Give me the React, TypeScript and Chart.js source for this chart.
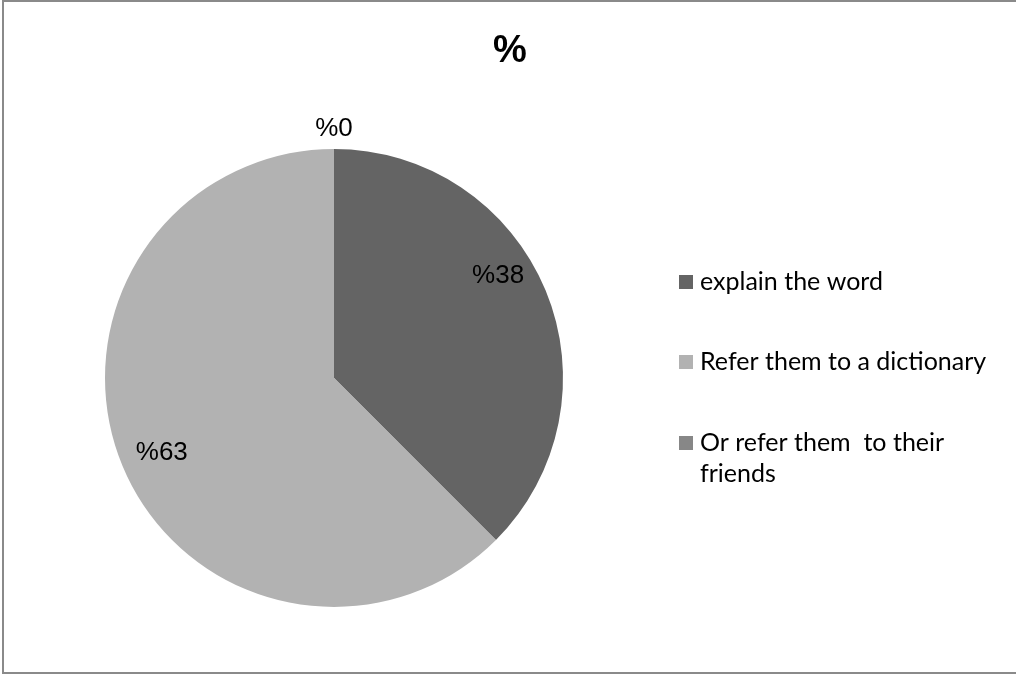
import React, { useEffect, useRef } from "react";
import { Chart, registerables } from "chart.js";

Chart.register(...registerables);

const categories = ["explain the word", "Refer them to a dictionary", "Or refer them  to their friends"];
const values = [37.5, 62.5, 0];
const colors = ["#646464", "#b2b2b2", "#878787"];
const titleText = "%";

const W = 1016;
const H = 674;

const framePlugin = {
  id: "frame",
  beforeDraw(chart: any) {
    const ctx = chart.ctx;
    ctx.save();
    ctx.fillStyle = "#ffffff";
    ctx.fillRect(0, 0, W, H);
    ctx.restore();
  },
  afterDraw(chart: any) {
    const ctx = chart.ctx;
    ctx.save();
    ctx.strokeStyle = "#8a8a8a";
    ctx.lineWidth = 2;
    ctx.strokeRect(3, 1, W + 10, H - 2);
    ctx.restore();
  },
};

const titlePlugin = {
  id: "customTitle",
  afterDraw(chart: any) {
    const ctx = chart.ctx;
    ctx.save();
    ctx.fillStyle = "#000";
    ctx.font = "bold 38px 'Liberation Sans', Arial, sans-serif";
    ctx.textAlign = "center";
    ctx.textBaseline = "middle";
    ctx.fillText(titleText, 510, 52);
    ctx.restore();
  },
};

// per-label placement: [angle shift in degrees, radius fraction]
const labelPlacement = [
  [-9.5, 0.845],
  [-1, 0.82],
  [0, 1.09],
];

const dataLabelPlugin = {
  id: "dataLabels",
  afterDatasetsDraw(chart: any) {
    const ctx = chart.ctx;
    const meta = chart.getDatasetMeta(0);
    const total = values.reduce((a, b) => a + b, 0);
    ctx.save();
    ctx.fillStyle = "#000";
    ctx.font = "26px 'Liberation Sans', Arial, sans-serif";
    ctx.textAlign = "center";
    ctx.textBaseline = "middle";
    meta.data.forEach((arc: any, i: number) => {
      const { x, y, startAngle, endAngle, outerRadius } = arc.getProps(
        ["x", "y", "startAngle", "endAngle", "outerRadius"],
        true
      );
      const [shift, frac] = labelPlacement[i];
      const mid = (startAngle + endAngle) / 2 + (shift * Math.PI) / 180;
      const r = outerRadius * frac;
      const px = x + Math.cos(mid) * r;
      const py = y + Math.sin(mid) * r;
      const pct = Math.round((values[i] / total) * 100);
      ctx.fillText("%" + pct, px, py);
    });
    ctx.restore();
  },
};

const legendPlugin = {
  id: "customLegend",
  afterDraw(chart: any) {
    const ctx = chart.ctx;
    ctx.save();
    ctx.font = "25px Lato, 'Open Sans', sans-serif";
    ctx.textBaseline = "middle";
    ctx.textAlign = "left";
    const boxX = 679;
    const textX = 700;
    const maxW = 292;
    const rowYs = [282, 362, 443];
    const lineH = 31;
    categories.forEach((label, i) => {
      const words = label.split(" ");
      const lines: string[] = [];
      let cur = "";
      words.forEach((w) => {
        const test = cur === "" ? w : cur + " " + w;
        if (ctx.measureText(test).width > maxW && cur.trim() !== "") {
          lines.push(cur);
          cur = w;
        } else {
          cur = test;
        }
      });
      if (cur) lines.push(cur);
      const y0 = rowYs[i];
      ctx.fillStyle = colors[i];
      ctx.fillRect(boxX, y0 - 7, 14, 14);
      ctx.fillStyle = "#000";
      lines.forEach((ln, j) => ctx.fillText(ln, textX, y0 + j * lineH));
    });
    ctx.restore();
  },
};

export default function App() {
  const ref = useRef<HTMLCanvasElement | null>(null);
  useEffect(() => {
    document.body.style.margin = "0";
    const canvas = ref.current;
    if (!canvas) return;
    const chart = new Chart(canvas, {
      type: "pie",
      data: {
        labels: categories,
        datasets: [
          {
            data: values,
            backgroundColor: colors,
            borderWidth: 0,
          },
        ],
      },
      options: {
        responsive: false,
        animation: false,
        devicePixelRatio: 1,
        layout: { padding: { left: 105, right: W - 563, top: 149, bottom: H - 607 } },
        plugins: {
          legend: { display: false },
          title: { display: false },
          tooltip: { enabled: false },
        },
      },
      plugins: [framePlugin, dataLabelPlugin, titlePlugin, legendPlugin],
    });
    return () => chart.destroy();
  }, []);
  return (
    <div style={{ position: "absolute", left: 0, top: 0, width: W, height: H }}>
      <canvas ref={ref} width={W} height={H} style={{ width: W, height: H, display: "block" }} />
    </div>
  );
}
